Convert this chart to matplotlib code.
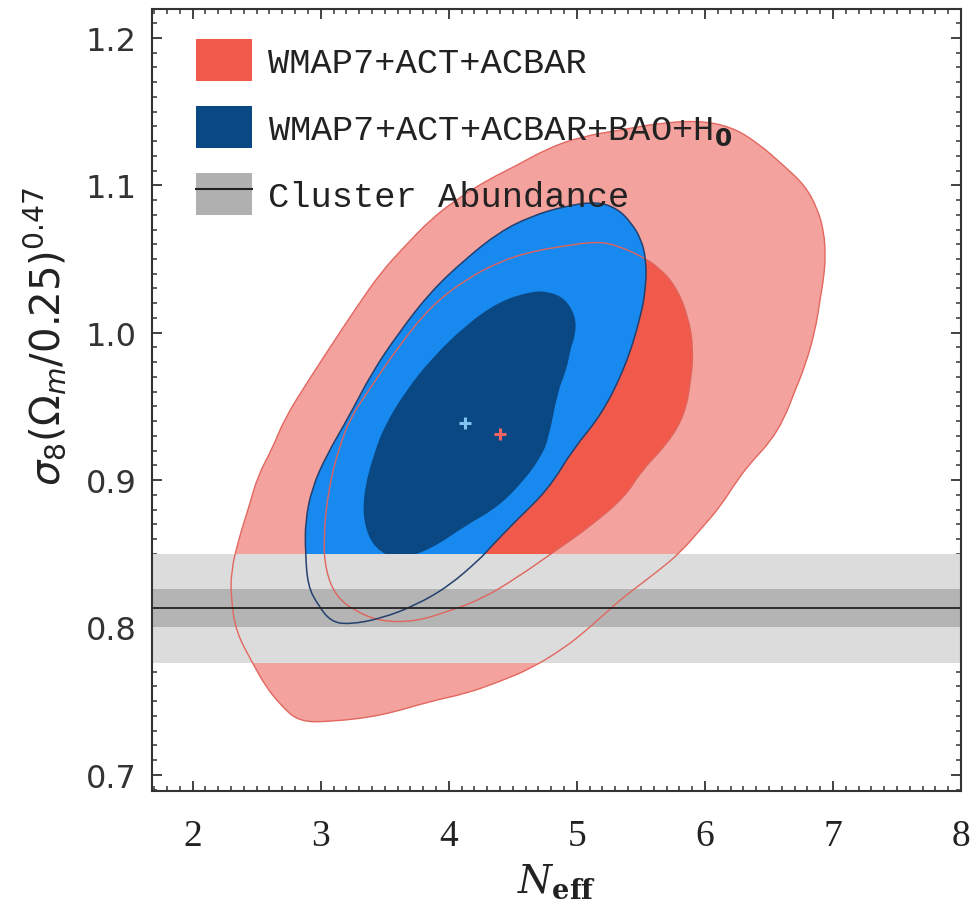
import matplotlib
matplotlib.use('Agg')
from matplotlib import pyplot as plt
from matplotlib.patches import Patch, PathPatch
from matplotlib.lines import Line2D
from matplotlib.path import Path
from matplotlib.legend_handler import HandlerTuple
from matplotlib.ticker import MultipleLocator, FormatStrFormatter

# 95% / 68% contour outlines, WMAP7+ACT+ACBAR
red95_x = [5.94, 6.20, 6.41, 6.62, 6.78, 6.88, 6.93, 6.94, 6.93, 6.90, 6.86, 6.78, 6.70, 6.62,
           6.51, 6.38, 6.26, 6.12, 5.97, 5.81, 5.63, 5.37, 5.24, 5.06, 4.90, 4.64, 4.39, 4.13,
           3.86, 3.47, 3.08, 2.83, 2.69, 2.57, 2.46, 2.34, 2.30, 2.30, 2.36, 2.44, 2.51, 2.62,
           2.72, 2.90, 3.08, 3.27, 3.47, 3.66, 3.86, 4.07, 4.31, 4.52, 4.77, 5.03, 5.37, 5.63]
red95_y = [1.144, 1.140, 1.129, 1.113, 1.100, 1.084, 1.068, 1.052, 1.039, 1.023, 1.001, 0.977, 0.960, 0.942,
           0.926, 0.914, 0.901, 0.882, 0.867, 0.851, 0.838, 0.821, 0.811, 0.797, 0.786, 0.772, 0.763, 0.755,
           0.750, 0.740, 0.736, 0.736, 0.747, 0.760, 0.777, 0.797, 0.819, 0.838, 0.860, 0.882, 0.903, 0.921,
           0.942, 0.967, 0.991, 1.016, 1.041, 1.059, 1.077, 1.091, 1.104, 1.113, 1.125, 1.133, 1.138, 1.142]

red68_x = [3.02, 3.06, 3.14, 3.23, 3.36, 3.61, 3.86, 4.13, 4.39, 4.64, 4.91, 5.16, 5.32, 5.50, 5.63,
           5.77, 5.87, 5.91, 5.89, 5.84, 5.71, 5.50, 5.38, 5.11, 4.85, 4.52, 4.25, 4.00, 3.74, 3.47,
           3.27, 3.12, 3.04]
red68_y = [0.860, 0.894, 0.921, 0.942, 0.959, 0.991, 1.018, 1.036, 1.048, 1.055, 1.059, 1.062, 1.059, 1.052, 1.045,
           1.032, 1.011, 0.989, 0.967, 0.944, 0.925, 0.906, 0.889, 0.869, 0.853, 0.833, 0.819, 0.811, 0.804, 0.804,
           0.811, 0.821, 0.838]

# WMAP7+ACT+ACBAR+BAO+H0
blue95_x = [5.16, 5.32, 5.42, 5.50, 5.54, 5.54, 5.50, 5.38, 5.19, 4.97, 4.78, 4.52, 4.31, 4.25, 4.00,
            3.74, 3.47, 3.22, 3.08, 2.98, 2.90, 2.88, 2.88, 2.93, 3.04, 3.22, 3.40, 3.61, 3.86, 4.13,
            4.39, 4.64, 4.91]
blue95_y = [1.089, 1.084, 1.075, 1.064, 1.050, 1.032, 1.011, 0.977, 0.944, 0.921, 0.894, 0.872, 0.853, 0.847, 0.828,
            0.815, 0.806, 0.802, 0.804, 0.815, 0.828, 0.851, 0.872, 0.894, 0.916, 0.943, 0.973, 1.000, 1.028, 1.050,
            1.068, 1.079, 1.086]

blue68_x = [4.64, 4.78, 4.91, 4.99, 4.99, 4.95, 4.92, 4.85, 4.78, 4.72, 4.60, 4.39, 4.13, 3.86, 3.61,
            3.42, 3.33, 3.34, 3.42, 3.50, 3.66, 3.86, 4.13, 4.39]
blue68_y = [1.028, 1.028, 1.023, 1.011, 0.999, 0.989, 0.975, 0.960, 0.928, 0.916, 0.901, 0.882, 0.869, 0.853, 0.846,
            0.853, 0.872, 0.894, 0.919, 0.937, 0.960, 0.982, 1.005, 1.021]

# best-fit points
best_blue = (4.13, 0.939)
best_red = (4.40, 0.931)

# cluster abundance: 0.813 +/- 0.013 (stat) +/- 0.024 (sys)
cl_mean = 0.813
cl_stat = 0.013
cl_sys = 0.024

c_pink = '#f4a29e'
c_red = '#f15a4b'
c_blue = '#1889ee'
c_navy = '#0a4884'


def closed_curve(xs, ys):
    # quadratic bezier through segment midpoints, vertices act as control points
    n = len(xs)
    mx = [(xs[i] + xs[(i + 1) % n]) / 2 for i in range(n)]
    my = [(ys[i] + ys[(i + 1) % n]) / 2 for i in range(n)]
    verts = [(mx[-1], my[-1])]
    codes = [Path.MOVETO]
    for i in range(n):
        verts += [(xs[i], ys[i]), (mx[i], my[i])]
        codes += [Path.CURVE3, Path.CURVE3]
    return Path(verts, codes)


fig = plt.figure(figsize=(9.72, 9.04), dpi=100)
ax = fig.add_axes([0.1564, 0.1239, 0.8324, 0.8651])

paths = {k: closed_curve(x, y) for k, x, y in [('r95', red95_x, red95_y), ('r68', red68_x, red68_y),
                                                ('b95', blue95_x, blue95_y), ('b68', blue68_x, blue68_y)]}

ax.add_patch(PathPatch(paths['r95'], facecolor=c_pink, lw=0, zorder=1))
ax.add_patch(PathPatch(paths['r68'], facecolor=c_red, lw=0, zorder=2))
ax.add_patch(PathPatch(paths['b95'], facecolor=c_blue, lw=0, zorder=3))
ax.add_patch(PathPatch(paths['b68'], facecolor=c_navy, lw=0, zorder=4))

ax.axhspan(cl_mean - cl_stat - cl_sys, cl_mean + cl_stat + cl_sys, color='#dcdcdc', lw=0, zorder=5)
ax.axhspan(cl_mean - cl_stat, cl_mean + cl_stat, color='#b4b4b4', lw=0, zorder=6)

# contour edges stay visible through the bands
ax.add_patch(PathPatch(paths['r95'], fill=False, edgecolor='#e2675f', lw=1.0, zorder=7))
ax.add_patch(PathPatch(paths['r68'], fill=False, edgecolor='#e0645c', lw=1.0, zorder=7))
ax.add_patch(PathPatch(paths['b95'], fill=False, edgecolor='#23406e', lw=1.1, zorder=7))

ax.axhline(cl_mean, color='#222222', lw=1.3, zorder=8)

ax.plot(*best_blue, marker='+', ms=9, mew=2.2, color='#7fc4f0', zorder=9)
ax.plot(*best_red, marker='+', ms=9, mew=2.2, color='#f06464', zorder=9)

ax.set_xlim(1.683, 8.0)
ax.set_ylim(0.689, 1.2197)

ax.xaxis.set_major_locator(MultipleLocator(1))
ax.xaxis.set_minor_locator(MultipleLocator(0.1))
ax.yaxis.set_major_locator(MultipleLocator(0.1))
ax.yaxis.set_minor_locator(MultipleLocator(0.01))
ax.yaxis.set_major_formatter(FormatStrFormatter('%.1f'))

ax.tick_params(which='both', direction='in', top=True, right=True, color='#333333')
ax.tick_params(which='major', length=7.5, width=1.3)
ax.tick_params(which='minor', length=3.8, width=1.1)
ax.tick_params(axis='x', pad=20)
ax.tick_params(axis='y', pad=11)
for s in ax.spines.values():
    s.set_linewidth(1.5)
    s.set_color('#333333')
    s.set_zorder(10)

for lab in ax.get_xticklabels():
    lab.set_fontfamily('Liberation Serif')
    lab.set_fontsize(27)
    lab.set_color('#222222')
for lab in ax.get_yticklabels():
    lab.set_fontfamily('DejaVu Sans')
    lab.set_fontsize(23)
    lab.set_color('#333333')

ax.set_xlabel(r'$N_{\mathbf{eff}}$', fontsize=28, math_fontfamily='dejavuserif',
              labelpad=6, color='#222222')
ax.set_ylabel(r'$\sigma_8(\Omega_m/0.25)^{0.47}$', fontsize=29, color='#222222')
ax.yaxis.set_label_coords(-0.103, 0.583)

handles = [Patch(facecolor=c_red, edgecolor='none'),
           Patch(facecolor=c_navy, edgecolor='none'),
           (Patch(facecolor='#b0b0b0', edgecolor='none'), Line2D([], [], color='#222222', lw=1.5))]
labels = ['WMAP7+ACT+ACBAR', r'WMAP7+ACT+ACBAR+BAO+H$_\mathbf{0}$', 'Cluster Abundance']
leg = ax.legend(handles, labels, loc='upper left', bbox_to_anchor=(0.0545, 0.9616),
                frameon=False, borderpad=0, borderaxespad=0,
                handlelength=1.58, handleheight=1.47, handletextpad=0.45, labelspacing=0.69,
                prop={'family': 'Liberation Mono', 'size': 25.5},
                handler_map={tuple: HandlerTuple(ndivide=1)})
for t in leg.get_texts():
    t.set_color('#222222')
leg.set_zorder(11)

fig.savefig('out.png', dpi=100)
